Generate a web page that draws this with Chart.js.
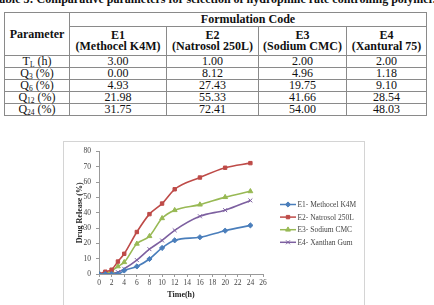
<!DOCTYPE html>
<html>
<head>
<meta charset="utf-8">
<script src="https://cdn.jsdelivr.net/npm/chart.js@4.4.1/dist/chart.umd.min.js"></script>
<style>
  html,body{margin:0;padding:0;background:#fff;width:434px;height:305px;overflow:hidden;position:relative;font-family:"Liberation Serif","Times New Roman",serif;}
  #title{position:absolute;top:-8px;left:214px;transform:translateX(-50%);white-space:nowrap;font-weight:bold;font-size:12px;line-height:14px;color:#111;}
  table{position:absolute;left:4px;top:12px;border-collapse:collapse;font-size:12px;color:#111;}
  td,th{border:1px solid #8a8a8a;text-align:center;padding:0;line-height:11px;}
  th{font-weight:bold;}
  sub{font-size:7.5px;vertical-align:-2px;line-height:0;}
  #frame{position:absolute;left:63px;top:141px;width:302px;height:190px;border:1px solid #d4d4d4;box-sizing:border-box;}
  #c{position:absolute;left:0;top:0;}
</style>
</head>
<body>
<div id="title">Table 3: Comparative parameters for selection of hydrophilic rate controlling polymer.</div>
<table id="tbl"></table>
<div id="frame"><canvas id="c" width="300" height="170" style="width:300px;height:170px"></canvas></div>
<script>
// ---- table data ----
const paramNames = [["T","L"," (h)"],["Q","3"," (%)"],["Q","6"," (%)"],["Q","12"," (%)"],["Q","24"," (%)"]];
const formCodes = ["E1","E2","E3","E4"];
const formNames = ["(Methocel K4M)","(Natrosol 250L)","(Sodium CMC)","(Xantural 75)"];
const tableE1 = ["3.00","0.00","4.93","21.98","31.75"];
const tableE2 = ["1.00","8.12","27.43","55.33","72.41"];
const tableE3 = ["2.00","4.96","19.75","41.66","54.00"];
const tableE4 = ["2.00","1.18","9.10","28.54","48.03"];

// ---- chart data ----
const timeH = [0,1,2,3,4,6,8,10,12,16,20,24];
const relE1 = [0,0,0,0,2.3,4.93,9.8,17,21.98,24,28.3,31.75];
const relE2 = [0,1.5,2.8,8.12,13.2,27.43,39.1,46,55.33,63,69.4,72.41];
const relE3 = [0,0.5,2,4.96,7.7,19.75,24.7,36.4,41.66,45.3,50.2,54];
const relE4 = [0,0,0.5,1.18,3.4,9.1,16.2,21.9,28.54,37.7,41.7,48.03];
const seriesLabels = ["E1- Methocel K4M","E2- Natrosol 250L","E3- Sodium CMC","E4- Xanthan Gum"];
const xTitle = "Time(h)";
const yTitle = "Drug Release (%)";

// build table
const colW = [65,97,92,88,80];
const tbl = document.getElementById('tbl');
let html = '<colgroup>' + colW.map(w=>'<col style="width:'+w+'px">').join('') + '</colgroup>';
html += '<tr style="height:14px"><th rowspan="2">Parameter</th><th colspan="4">Formulation Code</th></tr>';
html += '<tr style="height:29px">' + formCodes.map((c,i)=>'<th>'+c+'<br>'+formNames[i]+'</th>').join('') + '</tr>';
const cols = [tableE1,tableE2,tableE3,tableE4];
paramNames.forEach((p,r)=>{
  html += '<tr style="height:11.8px"><td>'+p[0]+'<sub>'+p[1]+'</sub>'+p[2]+'</td>' + cols.map(c=>'<td>'+c[r]+'</td>').join('') + '</tr>';
});
tbl.innerHTML = html;

// chart
const colors = ['#4A7EBB','#BE4B48','#98B954','#7D60A0'];
const styles = ['rectRot','rect','triangle','crossRot'];
const radii = [2.6,2.4,2.8,2.8];
const series = [relE1,relE2,relE3,relE4];

const legendPlugin = {
  id:'excelLegend',
  afterDraw(chart){
    const ctx = chart.ctx;
    ctx.save();
    chart.data.datasets.forEach((ds,i)=>{
      const y = 62.5 + i*12.6;
      ctx.strokeStyle = ds.borderColor; ctx.fillStyle = ds.borderColor; ctx.lineWidth = 1.5;
      ctx.beginPath(); ctx.moveTo(216,y); ctx.lineTo(232,y); ctx.stroke();
      ctx.lineWidth = 1;
      Chart.helpers.drawPoint(ctx,{pointStyle:ds.pointStyle,radius:ds.pointRadius,rotation:0,borderWidth:1},224,y);
      ctx.fillStyle = '#444';
      ctx.font = '7.5px "Liberation Serif", serif';
      ctx.textBaseline = 'middle';
      ctx.fillText(ds.label,233.5,y+0.5);
    });
    ctx.restore();
  }
};

new Chart(document.getElementById('c'),{
  type:'line',
  data:{
    datasets: series.map((s,i)=>({
      label: seriesLabels[i],
      data: timeH.map((t,j)=>({x:t,y:s[j]})),
      borderColor: colors[i],
      backgroundColor: colors[i],
      borderWidth: 1.6,
      pointStyle: styles[i],
      pointRadius: radii[i],
      pointBorderWidth: 1,
      cubicInterpolationMode: 'monotone',
      fill:false
    }))
  },
  plugins:[legendPlugin],
  options:{
    responsive:false,
    animation:false,
    devicePixelRatio:1,
    layout:{padding:{left:10,top:7,right:101,bottom:8}},
    plugins:{legend:{display:false},tooltip:{enabled:false}},
    scales:{
      x:{
        type:'linear',min:0,max:26,
        ticks:{stepSize:2,font:{family:'"Liberation Serif", serif',size:7.5},color:'#444',padding:2,maxRotation:0,autoSkip:false},
        grid:{display:true,drawOnChartArea:false,tickLength:3,color:'#9a9a9a'},
        border:{color:'#9a9a9a'},
        title:{display:true,text:xTitle,font:{family:'"Liberation Serif", serif',size:8,weight:'bold'},color:'#222',padding:{top:0,bottom:4}},
        afterFit(s){ s.height = 30; }
      },
      y:{
        min:0,max:80,
        ticks:{stepSize:10,font:{family:'"Liberation Serif", serif',size:7.5},color:'#444',padding:5},
        grid:{display:true,drawOnChartArea:false,tickLength:3,color:'#9a9a9a'},
        border:{color:'#9a9a9a'},
        title:{display:true,text:yTitle,font:{family:'"Liberation Serif", serif',size:8,weight:'bold'},color:'#222',padding:{top:1,bottom:0}},
        afterFit(s){ s.width = 25; }
      }
    }
  }
});
</script>
</body>
</html>
